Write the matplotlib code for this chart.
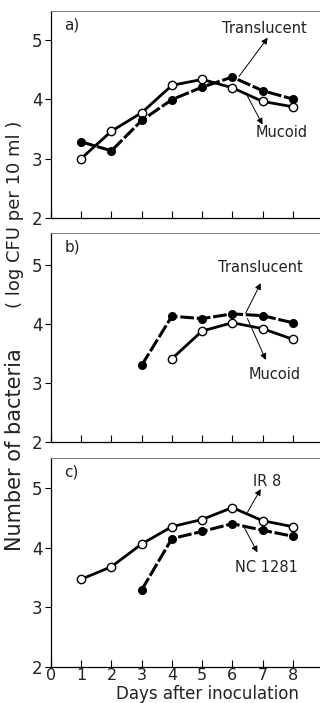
import numpy as np
import matplotlib
matplotlib.use('Agg')
import matplotlib.pyplot as plt

# DATA
days = [1, 2, 3, 4, 5, 6, 7, 8]

a_mucoid      = [3.00, 3.46, 3.77, 4.23, 4.33, 4.19, 3.96, 3.87]
a_translucent = [3.28, 3.13, 3.64, 3.99, 4.20, 4.37, 4.14, 4.00]

b_days_trans  = [3, 4, 5, 6, 7, 8]
b_translucent = [3.30, 4.13, 4.09, 4.17, 4.14, 4.02]
b_days_muc    = [4, 5, 6, 7, 8]
b_mucoid      = [3.41, 3.88, 4.02, 3.92, 3.74]

c_ir8         = [3.47, 3.68, 4.06, 4.35, 4.47, 4.67, 4.45, 4.35]
c_days_nc     = [3, 4, 5, 6, 7, 8]
c_nc1281      = [3.29, 4.15, 4.27, 4.40, 4.29, 4.19]

panel_labels = ['a)', 'b)', 'c)']
y_ticks  = [2, 3, 4, 5]
x_ticks  = [0, 1, 2, 3, 4, 5, 6, 7, 8]

# annotations: (text, text position, arrow tail, arrow head)
notes = [
    [('Translucent', (5.66, 5.19), (6.22, 4.38), (7.17, 5.03)),
     ('Mucoid',      (6.76, 3.43), (6.50, 4.05), (7.00, 3.57))],
    [('Translucent', (5.53, 4.96), (6.44, 4.18), (6.94, 4.69)),
     ('Mucoid',      (6.53, 3.15), (6.50, 4.09), (7.11, 3.39))],
    [('IR 8',        (6.67, 5.11), (6.50, 4.59), (6.94, 4.98)),
     ('NC 1281',     (6.09, 3.67), (6.39, 4.34), (6.83, 3.92))],
]

fig = plt.figure(figsize=(3.2, 7.03), dpi=100)
plt.rcParams['font.family'] = 'DejaVu Sans'

# axes boxes in pixels: (top, bottom)
boxes = [(11, 218), (233, 442), (458, 667)]
ytops = [5.48, 5.54, 5.50]
H = 703.0
axes = []
for (top, bot) in boxes:
    ax = fig.add_axes([51/320, 1 - bot/H, 272/320, (bot - top)/H])
    axes.append(ax)

def open_line(ax, x, y):
    ax.plot(x, y, '-', color='k', lw=2.0, marker='o', ms=6,
            mfc='white', mec='k', mew=1.0, zorder=3)

def filled_line(ax, x, y):
    ax.plot(x, y, color='k', lw=2.2, dashes=(4.5, 0.9), marker='o', ms=5.5,
            mfc='k', mec='k', zorder=3)

open_line(axes[0], days, a_mucoid)
filled_line(axes[0], days, a_translucent)
filled_line(axes[1], b_days_trans, b_translucent)
open_line(axes[1], b_days_muc, b_mucoid)
open_line(axes[2], days, c_ir8)
filled_line(axes[2], c_days_nc, c_nc1281)

for i, ax in enumerate(axes):
    ax.set_xlim(0, 9)
    ax.set_ylim(2, ytops[i])
    ax.set_yticks(y_ticks)
    ax.set_xticks(x_ticks)
    ax.tick_params(axis='y', direction='out', length=4, width=0.8, labelsize=12, pad=2,
                   labelcolor='#222222')
    ax.tick_params(axis='x', direction='in', length=5, width=0.8, labelsize=11.5, pad=1,
                   labelcolor='#222222')
    if i < 2:
        ax.set_xticklabels([])
    ax.spines['top'].set_color('#777777')
    ax.spines['top'].set_linewidth(0.7)
    ax.spines['left'].set_linewidth(0.9)
    ax.spines['bottom'].set_linewidth(0.9)
    ax.spines['right'].set_visible(False)
    ax.text(0.45, ytops[i] - 0.24, panel_labels[i], fontsize=11, ha='left', va='center',
            color='#222222')
    for label, txt_pos, tail, head in notes[i]:
        ax.text(txt_pos[0], txt_pos[1], label, fontsize=10.5, ha='left', va='center',
                color='#222222')
        ax.annotate('', xy=head, xytext=tail,
                    arrowprops=dict(arrowstyle='-|>', lw=0.7, color='k',
                                    mutation_scale=9, shrinkA=0, shrinkB=0))

fig.text(207 / 320, 1 - 699/H, 'Days after inoculation', fontsize=12,
         ha='center', va='baseline', color='#222222')

# y label in two pieces, spaced like the original
fig.text(0.047, 1 - 450/H, 'Number of bacteria', rotation=90,
         ha='center', va='center', fontsize=15, color='#222222')
fig.text(0.047, 1 - 214/H, '( log CFU per 10 ml )', rotation=90,
         ha='center', va='center', fontsize=13, color='#222222')

fig.savefig('out.png', dpi=100)
